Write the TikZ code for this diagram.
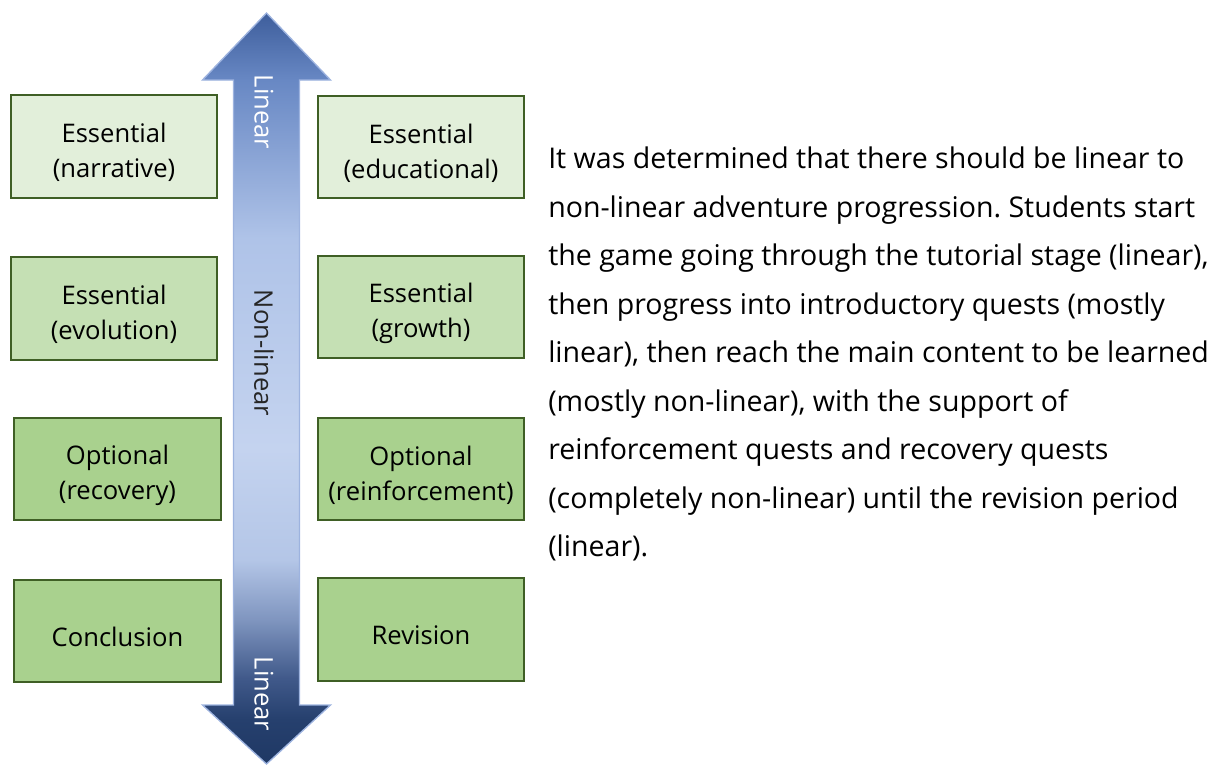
\documentclass[tikz,border=0pt]{standalone}
\usepackage{fontspec}
\setmainfont{Open Sans}
\frenchspacing
\definecolor{boxline}{HTML}{3F5F25}
\definecolor{fillA}{HTML}{E2EFDA}
\definecolor{fillB}{HTML}{C5E0B4}
\definecolor{fillC}{HTML}{A9D18E}
\definecolor{arA}{HTML}{1F3864}
\definecolor{arB}{HTML}{26406E}
\definecolor{arC}{HTML}{40598A}
\definecolor{arD}{HTML}{7F95BF}
\definecolor{arE}{HTML}{B4C6E7}
\definecolor{arF}{HTML}{C4D3EF}
\definecolor{arG}{HTML}{AFC3E8}
\definecolor{arH}{HTML}{6888C4}
\definecolor{arI}{HTML}{3E5E9C}
\definecolor{aredge}{HTML}{9DB3DF}
\pgfdeclareverticalshading{arrowgrad}{100bp}{%
  color(0bp)=(arA); color(25bp)=(arA); color(28bp)=(arB);
  color(30.7bp)=(arC); color(34.6bp)=(arD); color(38.6bp)=(arE);
  color(46bp)=(arF); color(60bp)=(arG); color(70.5bp)=(arH);
  color(75bp)=(arI); color(100bp)=(arI)}
\tikzset{
  stage/.style={draw=boxline, line width=1.5pt, minimum width=155pt,
    minimum height=77pt, inner sep=0pt},
  stagetext/.style={align=center, font=\fontsize{19.2}{26.25}\selectfont,
    inner sep=0pt, yshift=-4.5pt},
  light/.style={stage, fill=fillA},
  mid/.style={stage, fill=fillB},
  deep/.style={stage, fill=fillC},
  axislabel/.style={rotate=-90, font=\fontsize{19.2}{23}\selectfont, inner sep=0pt},
  para/.style={anchor=base west, inner sep=0pt, font=\fontsize{21.4}{26}\selectfont}
}
\begin{document}
\begin{tikzpicture}[x=0.75pt, y=-0.75pt]
  \useasboundingbox (0,0) rectangle (1218,765);
  % double-headed progression arrow
  \shade[shading=arrowgrad, draw=aredge, line width=1pt, line join=miter]
    (266.5,13) -- (330.5,80) -- (299.5,80) -- (299.5,705) -- (330.5,705)
    -- (266.5,764) -- (202.5,705) -- (233.5,705) -- (233.5,80) -- (202.5,80) -- cycle;
  \node[axislabel, text=white] (topLin) at (264,112) {Linear};
  \node[axislabel, text=black!85] (midLin) at (264,353) {Non-linear};
  \node[axislabel, text=white] (botLin) at (264,694) {Linear};

  % stage boxes
  \node[light, label={[stagetext]center:{Essential\\(narrative)}}]   (narr) at (114,146.5) {};
  \node[light, label={[stagetext]center:{Essential\\(educational)}}] (edu)  at (421,147)   {};
  \node[mid,   label={[stagetext]center:{Essential\\(evolution)}}]   (evo)  at (114,308.5) {};
  \node[mid,   label={[stagetext]center:{Essential\\(growth)}}]      (grow) at (421,307)   {};
  \node[deep,  label={[stagetext]center:{Optional\\(recovery)}}]     (rec)  at (117.5,469) {};
  \node[deep,  label={[stagetext]center:{Optional\\(reinforcement)}}] (rein) at (421,469)  {};
  \node[deep,  label={[stagetext]center:{Conclusion}}]               (conc) at (117.5,631) {};
  \node[deep,  label={[stagetext]center:{Revision}}]                 (rev)  at (421,629.5) {};

  % explanatory text
  \node[para] (p1) at (548,168.5) {It was determined that there should be linear to};
  \node[para] (p2) at (548,217)   {non-linear adventure progression. Students start};
  \node[para] (p3) at (548,265.5) {the game going through the tutorial stage (linear),};
  \node[para] (p4) at (548,314)   {then progress into introductory quests (mostly};
  \node[para] (p5) at (548,362.5) {linear), then reach the main content to be learned};
  \node[para] (p6) at (548,411)   {(mostly non-linear), with the support of};
  \node[para] (p7) at (548,459.5) {reinforcement quests and recovery quests};
  \node[para] (p8) at (548,508)   {(completely non-linear) until the revision period};
  \node[para] (p9) at (548,556.5) {(linear).};
\end{tikzpicture}
\end{document}
